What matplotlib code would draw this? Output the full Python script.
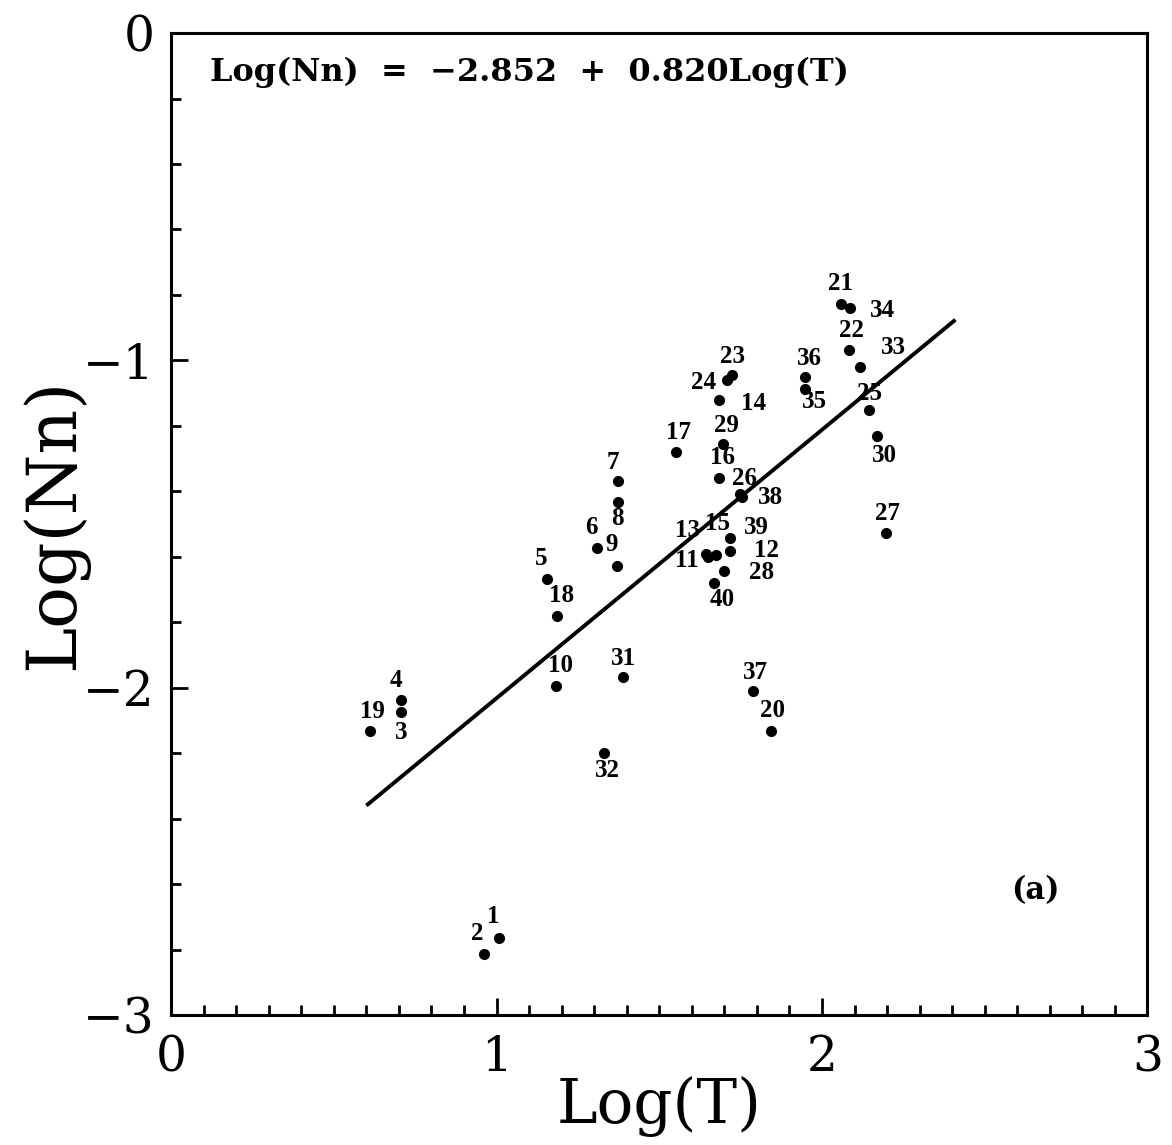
import numpy as np
import matplotlib
matplotlib.use("Agg")
from matplotlib import pyplot as plt
from matplotlib.ticker import MultipleLocator

# station numbers and their (Log T, Log Nn) values
labels = [str(i) for i in range(1, 41)]
logT = [1.008, 0.961, 0.706, 0.706, 1.156, 1.308, 1.372, 1.372, 1.369, 1.183,
        1.649, 1.716, 1.643, 1.685, 1.673, 1.685, 1.551, 1.186, 0.610, 1.842,
        2.057, 2.083, 1.723, 1.708, 2.146, 1.749, 2.196, 1.700, 1.696, 2.169,
        1.389, 1.331, 2.116, 2.085, 1.947, 1.947, 1.788, 1.755, 1.717, 1.669]
logNn = [-2.765, -2.813, -2.073, -2.037, -1.667, -1.572, -1.367, -1.434, -1.627, -1.994,
         -1.602, -1.581, -1.590, -1.122, -1.596, -1.358, -1.281, -1.780, -2.131, -2.131,
         -0.829, -0.969, -1.046, -1.061, -1.153, -1.407, -1.526, -1.642, -1.254, -1.232,
         -1.966, -2.199, -1.021, -0.841, -1.086, -1.052, -2.009, -1.416, -1.544, -1.679]

# fit: Log(Nn) = a + b Log(T)
fit_a = -2.852
fit_b = 0.820
fit_range = [0.6, 2.41]

# where each number sits relative to its dot (pixels)
label_offsets = [(-6, 22), (-7, 20), (0, -21), (-5, 19), (-6, 20), (-5, 20), (-5, 18), (0, -16),
                 (-5, 21), (4, 20), (-21, -3), (37, 0), (-18, 23), (34, -3), (2, 32), (3, 20),
                 (3, 20), (4, 20), (3, 19), (2, 20), (0, 21), (3, 20), (1, 19), (-23, -2),
                 (0, 17), (4, 15), (2, 19), (37, -2), (3, 18), (7, -19), (0, 18), (3, -18),
                 (34, 20), (33, -2), (10, -13), (5, 19), (2, 18), (28, -1), (27, 11), (8, -17)]

fig = plt.figure(figsize=(11.72, 11.45), dpi=100)
ax = fig.add_axes([0.146, 0.1135, 0.833, 0.8576])

xf = np.array(fit_range)
ax.plot(xf, fit_a + fit_b * xf, color="black", lw=2.8, solid_capstyle="butt")
ax.plot(logT, logNn, "o", color="black", ms=7, mec="black")

for lab, x, y, off in zip(labels, logT, logNn, label_offsets):
    ax.annotate(lab, (x, y), xytext=off, textcoords="offset pixels",
                ha="center", va="center", fontsize=18, fontweight="bold",
                family="Liberation Serif")

ax.text(0.121, -0.119, "Log(Nn)  =  \u22122.852  +  0.820Log(T)", ha="left", va="center",
        fontsize=23, fontweight="bold", family="DejaVu Serif")
ax.text(2.656, -2.621, "(a)", ha="center", va="center",
        fontsize=22, fontweight="bold", family="DejaVu Serif")

ax.set_xlim(0, 3)
ax.set_ylim(-3, 0)
ax.xaxis.set_major_locator(MultipleLocator(1))
ax.xaxis.set_minor_locator(MultipleLocator(0.1))
ax.yaxis.set_major_locator(MultipleLocator(1))
ax.yaxis.set_minor_locator(MultipleLocator(0.2))
ax.tick_params(which="both", direction="in", top=False, right=False, width=2)
ax.tick_params(which="major", length=12)
ax.tick_params(which="minor", length=7)
ax.tick_params(axis="x", which="major", pad=14)
ax.tick_params(axis="y", which="major", pad=12)
for t in ax.get_xticklabels() + ax.get_yticklabels():
    t.set_fontsize(35)
    t.set_family("DejaVu Serif")
for s in ax.spines.values():
    s.set_linewidth(2.2)

ax.set_xlabel("Log(T)", fontsize=44, family="DejaVu Serif", labelpad=-4)
ax.set_ylabel("Log(Nn)", fontsize=50, family="DejaVu Serif", labelpad=-4)

fig.savefig("out.png", dpi=100)
